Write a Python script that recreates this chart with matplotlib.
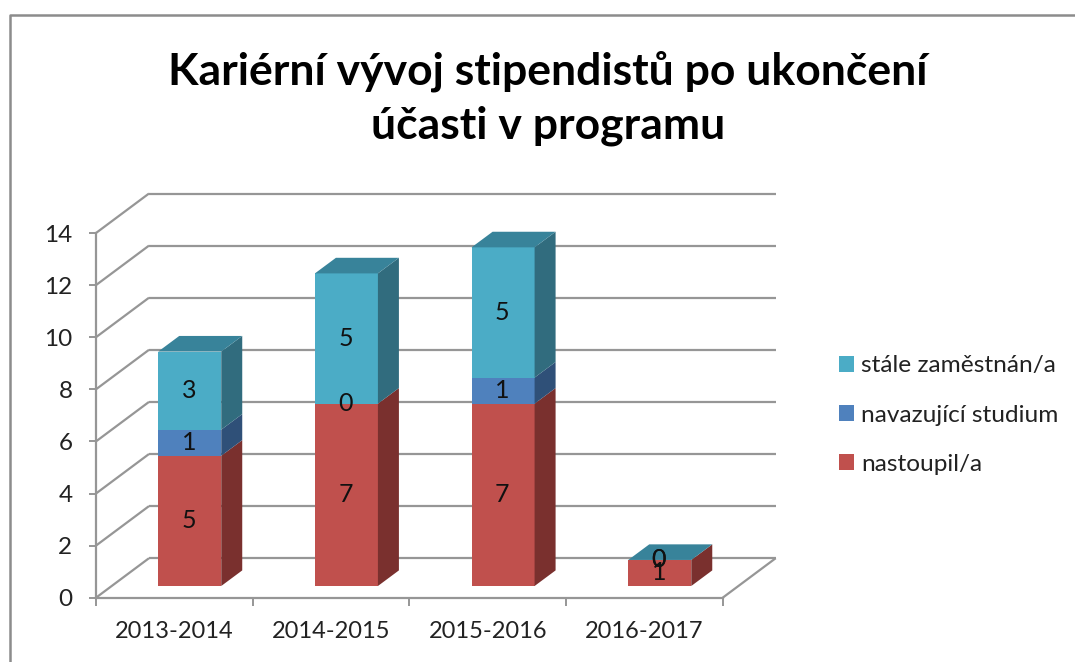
import matplotlib
matplotlib.use("Agg")
import matplotlib.pyplot as plt
from matplotlib.patches import Patch, Polygon
from matplotlib.lines import Line2D
import numpy as np

plt.rcParams["font.family"] = ["Lato", "DejaVu Sans"]

years = ["2013-2014", "2014-2015", "2015-2016", "2016-2017"]
nastoupil = [5, 7, 7, 1]
navazujici = [1, 0, 1, 0]
zamestnan = [3, 5, 5, 0]

series = [
    ("nastoupil/a", nastoupil, "#C0504D", "#7A302E"),
    ("navazující studium", navazujici, "#4F81BD", "#2F5078"),
    ("stále zaměstnán/a", zamestnan, "#4BACC6", "#316C7E"),
]
top_color = "#38839A"
grid_color = "#969696"
yticks = np.arange(0, 15, 2)

W, H = 1075, 662
fig = plt.figure(figsize=(W / 100, H / 100), dpi=100)

# plot area in pixels of the picture
left, right, y_zero, y_top = 96, 722.7, 597.7, 233
ax = fig.add_axes([left / W, 1 - y_zero / H, (right - left) / W, (y_zero - y_top) / H])
ax.set_xlim(0, 4)
ax.set_ylim(0, 14)
ax.patch.set_visible(False)

# pixel to data factors for the fake depth
px_x = 4 / (right - left)
px_y = 14 / (y_zero - y_top)
wall_dx, wall_dy = 53 * px_x, 39.5 * px_y
front_dx, front_dy = 15.4 * px_x, 11.7 * px_y
bar_dx, bar_dy = 21 * px_x, 15.6 * px_y
bar_w = 63 * px_x

# back wall grid and the floor edges
line_kw = dict(color=grid_color, lw=1.6, clip_on=False, zorder=1, solid_capstyle="butt")
for v in yticks:
    ax.add_line(Line2D([wall_dx, 4 + wall_dx], [v + wall_dy, v + wall_dy], **line_kw))
    ax.add_line(Line2D([0, wall_dx], [v, v + wall_dy], **line_kw))
ax.add_line(Line2D([4, 4 + wall_dx], [0, wall_dy], **line_kw))

# stacked bars with side and top faces
bottoms = np.zeros(len(years))
for name, values, front, side in series:
    values = np.array(values, dtype=float)
    xs = np.arange(len(years)) + 0.5 + front_dx
    ax.bar(xs, values, bar_w, bottom=bottoms + front_dy, color=front, zorder=3, clip_on=False)
    for x, b, v in zip(xs, bottoms + front_dy, values):
        xr = x + bar_w / 2
        ax.add_patch(Polygon([(xr, b), (xr + bar_dx, b + bar_dy), (xr + bar_dx, b + v + bar_dy), (xr, b + v)],
                             color=side, lw=0, clip_on=False, zorder=3))
    bottoms = bottoms + values

for x, b in zip(np.arange(len(years)) + 0.5 + front_dx, bottoms + front_dy):
    xl, xr = x - bar_w / 2, x + bar_w / 2
    ax.add_patch(Polygon([(xl, b), (xr, b), (xr + bar_dx, b + bar_dy), (xl + bar_dx, b + bar_dy)],
                         color=top_color, lw=0, clip_on=False, zorder=3))

# value labels in the middle of each segment
bottoms = np.zeros(len(years))
for name, values, front, side in series:
    for i, v in enumerate(values):
        ax.text(i + 0.5 + front_dx - 1 * px_x, bottoms[i] + v / 2 + front_dy, str(v),
                ha="center", va="center", fontsize=18, color="#111111", zorder=5)
    bottoms = bottoms + np.array(values)

# axes
for s in ["top", "right"]:
    ax.spines[s].set_visible(False)
for s in ["left", "bottom"]:
    ax.spines[s].set_color(grid_color)
    ax.spines[s].set_linewidth(1.6)
ax.set_yticks(yticks)
ax.set_xticks(np.arange(5))
ax.set_xticklabels([])
ax.set_xticks(np.arange(len(years)) + 0.5, labels=years, minor=True)
ax.tick_params(axis="y", length=5, width=1.4, color=grid_color, labelsize=17.5, labelcolor="#222222", pad=12)
ax.tick_params(axis="x", which="major", length=6, width=1.4, color=grid_color)
ax.tick_params(axis="x", which="minor", length=0, labelsize=17, labelcolor="#222222", pad=17)

# legend, top series first
handles = [Patch(facecolor=c, label=n) for n, v, c, d in reversed(series)]
fig.legend(handles=handles, loc="center left", bbox_to_anchor=(839 / W, 1 - 415 / H), frameon=False,
           fontsize=17.6, labelcolor="#222222", handlelength=0.6, handleheight=0.6,
           handletextpad=0.3, labelspacing=1.15, borderpad=0, borderaxespad=0)

fig.text(548 / W, 1 - 98 / H, "Kariérní vývoj stipendistů po ukončení\núčasti v programu", ha="center", va="center",
         fontsize=32, fontweight="bold", color="black", linespacing=1.42)

# chart frame cut off by the screenshot
fig.add_artist(Line2D([10 / W, 10 / W, 1], [0, 1 - 15 / H, 1 - 15 / H], color="#8C8C8C", lw=1.8))

fig.savefig("out.png", dpi=100)
